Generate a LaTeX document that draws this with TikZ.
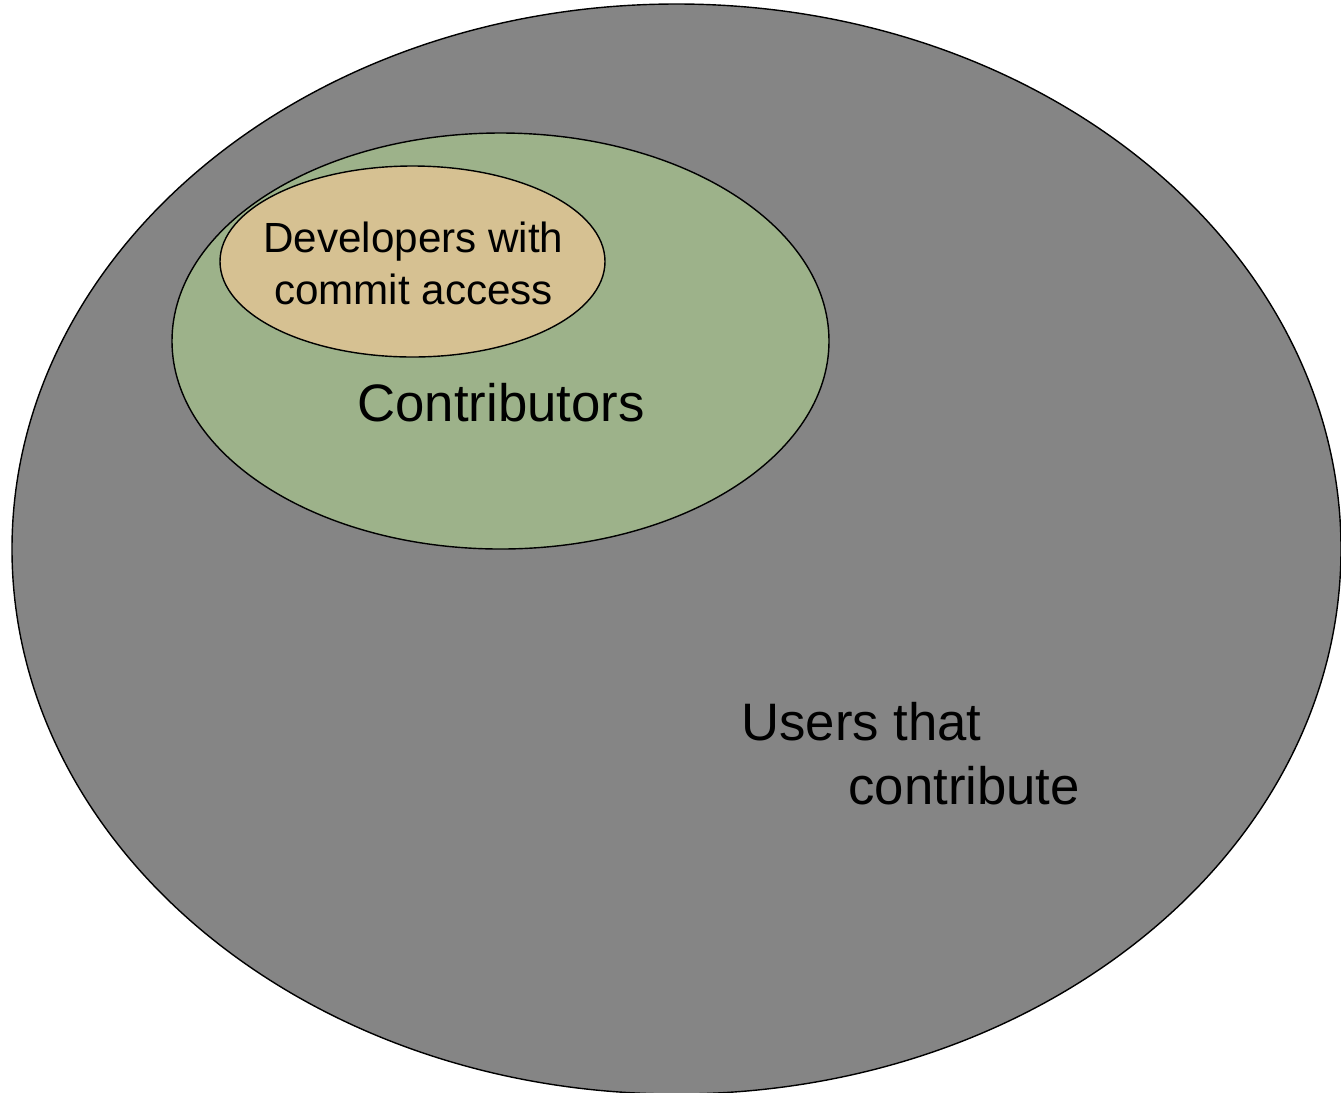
\documentclass[tikz,border=0pt]{standalone}
\usepackage{fontspec}
\setmainfont{Liberation Sans}
\usetikzlibrary{shapes.geometric,positioning}
\definecolor{usergray}{HTML}{858585}
\definecolor{contribgreen}{HTML}{9DB28A}
\definecolor{devtan}{HTML}{D6C192}
\tikzset{set/.style={ellipse,draw,line width=0.8pt,inner sep=0pt}}
\tikzset{users/.style={set,fill=usergray,minimum width=26.58cm,minimum height=21.8cm}}
\tikzset{contrib/.style={set,fill=contribgreen,minimum width=13.14cm,minimum height=8.32cm}}
\tikzset{devs/.style={set,fill=devtan,minimum width=7.7cm,minimum height=3.82cm}}
\tikzset{lbl/.style={inner sep=0pt,font=\fontsize{30}{36.5}\selectfont}}
\begin{document}
\begin{tikzpicture}
    \useasboundingbox (0,0) rectangle (26.82,-21.84);

    \node[users] (u) at (13.53,-10.98) {};
    \node[contrib] (c) at (10.01,-6.82) {};
    \node[devs] (d) at (8.25,-5.23) {};

    \node[inner sep=0pt,align=center,font=\fontsize{24}{29.6}\selectfont] (dtext) at (8.27,-5.26) {Developers with\\commit access};
    \node[lbl] (ctext) at (10.02,-8.06) {Contributors};
    \node[lbl,align=left,anchor=west] (utext) at (14.82,-15.08) {Users that\\\hspace{2.14cm}contribute};
\end{tikzpicture}
\end{document}
